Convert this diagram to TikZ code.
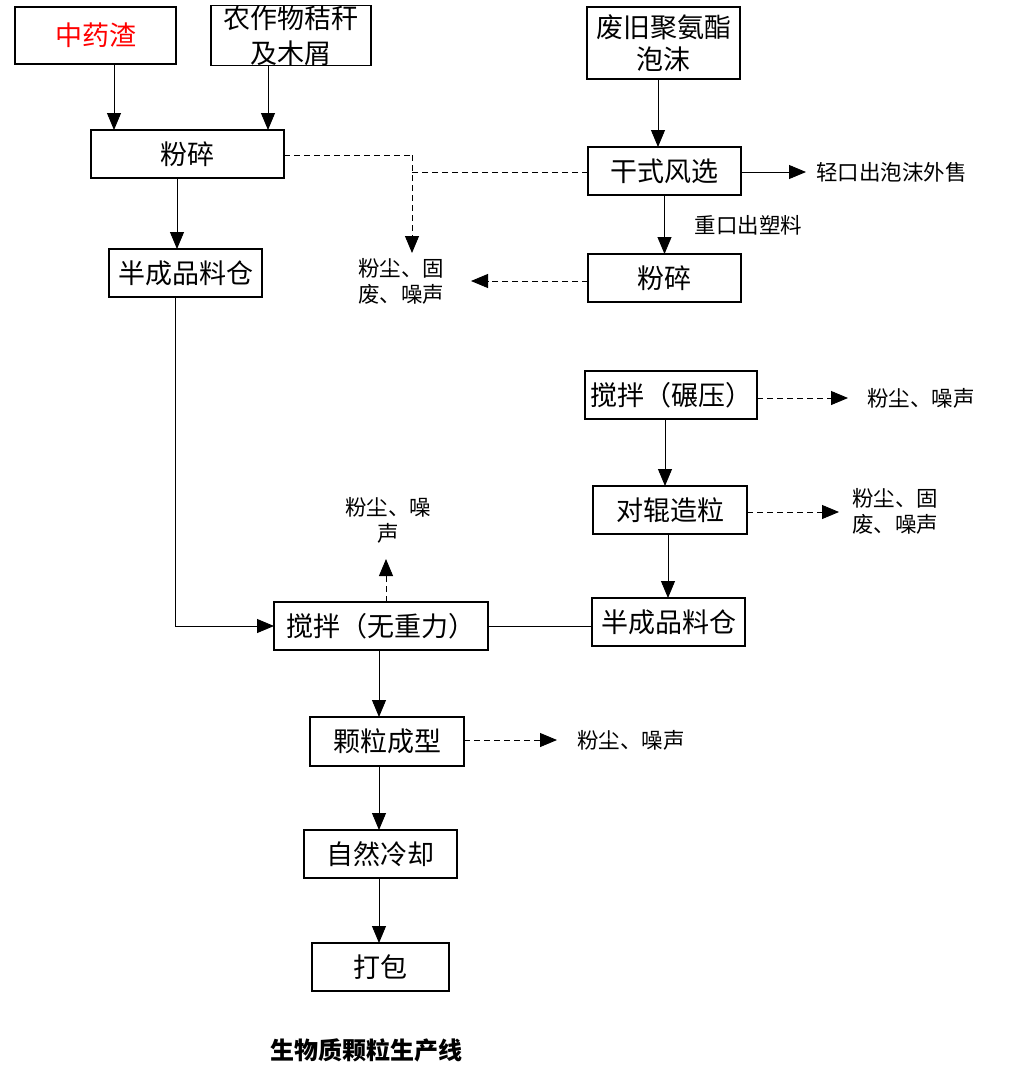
\documentclass[tikz,border=0pt]{standalone}
\usepackage{fontspec}
\setmainfont{Noto Sans CJK SC}
\usetikzlibrary{arrows.meta}
\begin{document}
\begin{tikzpicture}[x=1pt,y=-1pt,
  box/.style={draw,line width=1.5pt,inner sep=0pt,outer sep=0pt,font=\fontsize{27}{32}\selectfont,align=center},
  lbl/.style={inner sep=0pt,outer sep=0pt,font=\fontsize{21.5}{26}\selectfont,align=left},
  arr/.style={line width=0.9pt,-{Triangle[length=17pt,width=14pt]}},
  darr/.style={line width=0.9pt,dash pattern=on 6pt off 4pt,-{Triangle[length=17pt,width=14pt]}},
  ln/.style={line width=0.9pt},
  dln/.style={line width=0.9pt,dash pattern=on 6pt off 4pt}]
\useasboundingbox (0,0) rectangle (1009,1077);
% boxes
\node[box,minimum width=161pt,minimum height=57pt,text=red] (zyz) at (95.5,35.5) {中药渣};
\node[box,minimum width=160pt,minimum height=57pt,font=\fontsize{27}{31}\selectfont] (nzw) at (291,35.5) {\raisebox{7pt}{农作物秸秆}\\[-3pt]及木屑};
\node[box,minimum width=193pt,minimum height=48pt] (fs1) at (187.5,154) {粉碎};
\node[box,minimum width=153pt,minimum height=48pt] (bc1) at (185.5,273) {半成品料仓};
\node[box,minimum width=153pt,minimum height=72pt,font=\fontsize{27}{32}\selectfont] (fj) at (663.5,43) {废旧聚氨酯\\泡沫};
\node[box,minimum width=153pt,minimum height=48pt] (gs) at (664.5,171) {干式风选};
\node[box,minimum width=153pt,minimum height=48pt] (fs2) at (664.5,278) {粉碎};
\node[box,minimum width=172pt,minimum height=48pt] (jb1) at (671,395) {搅拌（碾压）};
\node[box,minimum width=154pt,minimum height=48pt] (dg) at (670,510) {对辊造粒};
\node[box,minimum width=153pt,minimum height=48pt] (bc2) at (668.5,622) {半成品料仓};
\node[box,minimum width=214pt,minimum height=48pt] (jb2) at (381,626) {搅拌（无重力）};
\node[box,minimum width=154pt,minimum height=49pt] (kl) at (387,741.5) {颗粒成型};
\node[box,minimum width=153pt,minimum height=48pt] (zr) at (380.5,854) {自然冷却};
\node[box,minimum width=137pt,minimum height=48pt] (db) at (380.5,967) {打包};
% labels
\node[lbl,anchor=west] (qk) at (816,172) {轻口出泡沫外售};
\node[lbl] (zk) at (748.5,225) {重口出塑料};
\node[lbl,anchor=north west] (d1) at (358,258) {粉尘、固\\废、噪声};
\node[lbl,anchor=west] (d2) at (867,398) {粉尘、噪声};
\node[lbl,anchor=west] (d3) at (852,511.5) {粉尘、固\\废、噪声};
\node[lbl,align=center] (d4) at (388,520.5) {粉尘、噪\\声};
\node[lbl,anchor=west] (d5) at (577,740) {粉尘、噪声};
\node[font=\fontsize{24}{28}\selectfont\bfseries,inner sep=0pt] (title) at (366,1050) {生物质颗粒生产线};
% junction / end coordinates
\coordinate (j1) at (412,155);
\coordinate (j3) at (412,172);
\coordinate (j2) at (412,253);
\coordinate (c1) at (175,626);
\coordinate (e1) at (471,281);
\coordinate (e2) at (848,398);
\coordinate (e3) at (839,512);
\coordinate (e4) at (386,559);
\coordinate (e5) at (557,740);
\coordinate (e6) at (806,172);
% connectors
\draw[arr] ([xshift=18.5pt]zyz.south) -- ([xshift=18.5pt]zyz.south |- fs1.north);
\draw[arr] ([xshift=-23pt]nzw.south) -- ([xshift=-23pt]nzw.south |- fs1.north);
\draw[arr] ([xshift=-10.5pt]fs1.south) -- ([xshift=-10.5pt]fs1.south |- bc1.north);
\draw[ln] ([xshift=-10.5pt]bc1.south) -- (c1);
\draw[arr] (c1) -- (jb2.west |- c1);
\draw[dln] (fs1.east |- j1) -- (j1);
\draw[darr] (j1) -- (j2);
\draw[dln] (gs.west |- j3) -- (j3);
\draw[arr] ([xshift=-5.5pt]fj.south) -- ([xshift=-5.5pt]fj.south |- gs.north);
\draw[arr] (gs.east |- e6) -- (e6);
\draw[arr] (gs.south) -- (fs2.north);
\draw[darr] (fs2.west |- e1) -- (e1);
\draw[arr] ([xshift=-6pt]jb1.south) -- ([xshift=-6pt]jb1.south |- dg.north);
\draw[darr] (jb1.east |- e2) -- (e2);
\draw[arr] ([xshift=-2pt]dg.south) -- ([xshift=-2pt]dg.south |- bc2.north);
\draw[darr] (dg.east |- e3) -- (e3);
\draw[ln] (bc2.west |- c1) -- (jb2.east |- c1);
\draw[darr] (jb2.north -| e4) -- (e4);
\draw[arr] ([xshift=-2pt]jb2.south) -- ([xshift=-2pt]jb2.south |- kl.north);
\draw[darr] (kl.east |- e5) -- (e5);
\draw[arr] ([xshift=-8pt]kl.south) -- ([xshift=-8pt]kl.south |- zr.north);
\draw[arr] ([xshift=-1.5pt]zr.south) -- ([xshift=-1.5pt]zr.south |- db.north);
\end{tikzpicture}
\end{document}
